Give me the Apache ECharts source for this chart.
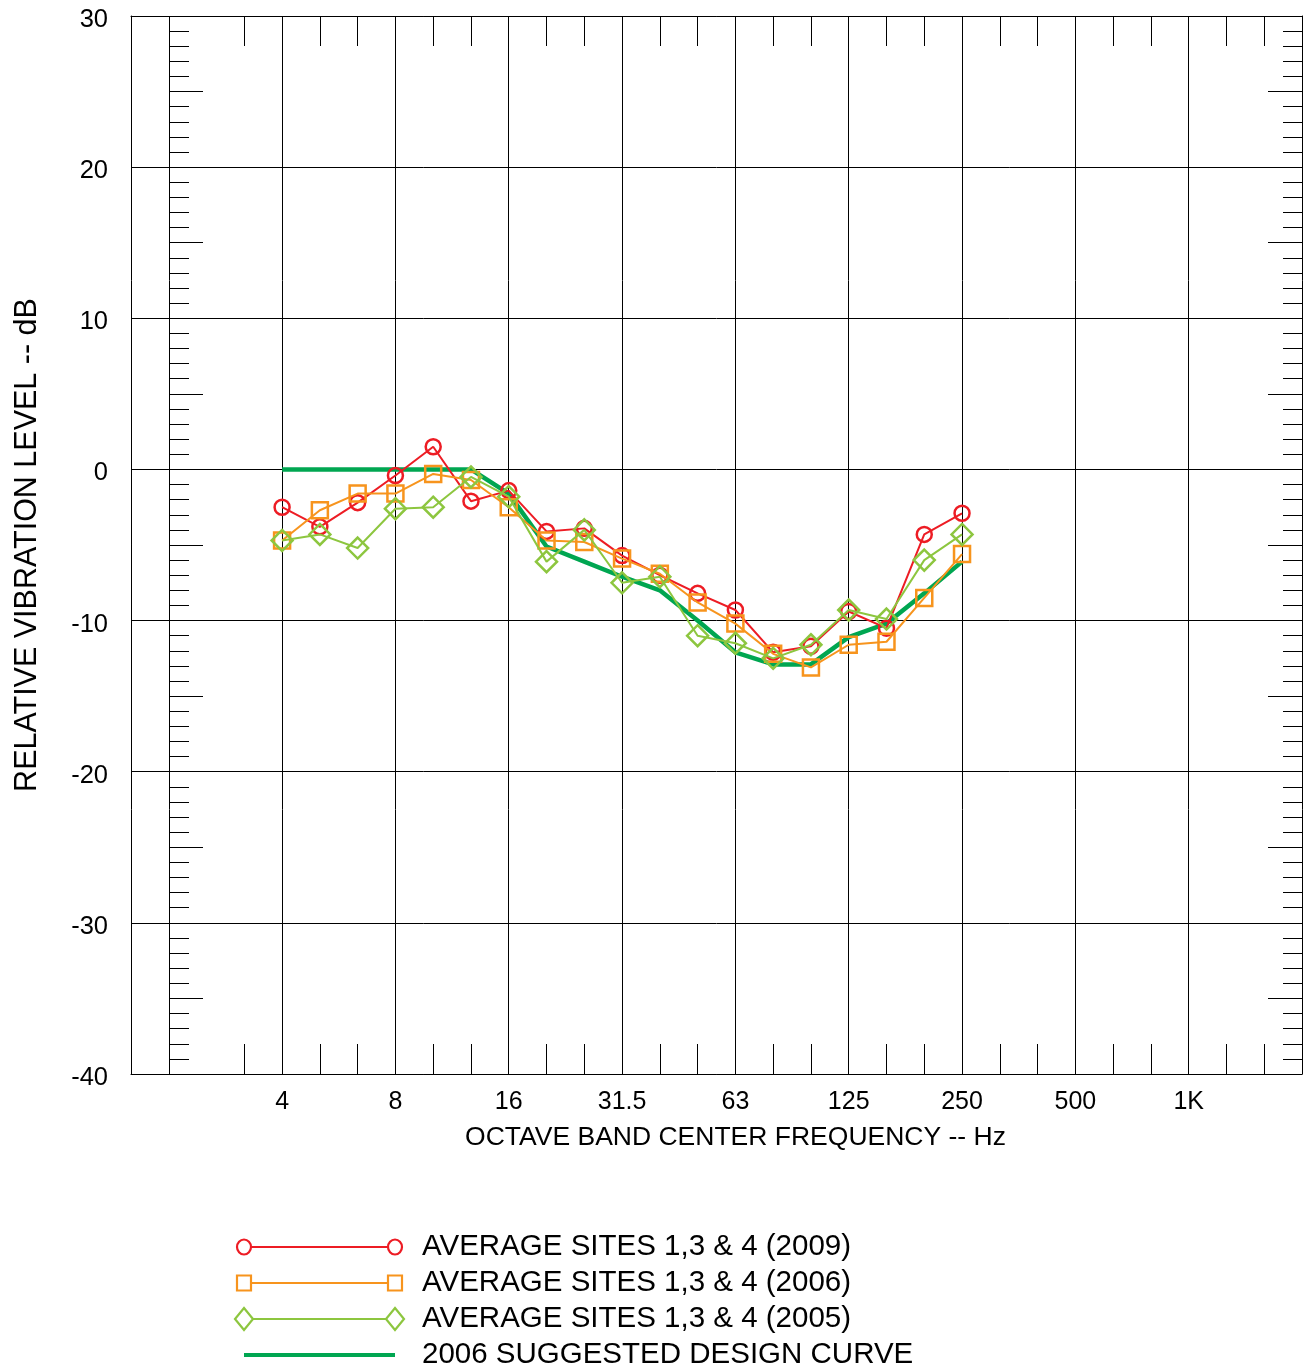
<!DOCTYPE html>
<html>
<head>
<meta charset="utf-8">
<script src="https://cdn.jsdelivr.net/npm/echarts@6/dist/echarts.min.js"></script>
<style>
  html, body { margin: 0; padding: 0; background: #ffffff; }
  #chart { width: 1307px; height: 1370px; }
</style>
</head>
<body>
<div id="chart"></div>
<script>
// One-third octave bands spanning the frequency axis (left edge to right edge)
const BANDS = ['1.6', '2', '2.5', '3.15', '4', '5', '6.3', '8', '10', '12.5', '16', '20', '25',
  '31.5', '40', '50', '63', '80', '100', '125', '160', '200', '250', '315', '400', '500',
  '630', '800', '1K', '1.25K', '1.6K', '2K'];

// Bands at which the vibration levels were measured
const MEASURED_BANDS = ['4', '5', '6.3', '8', '10', '12.5', '16', '20', '25', '31.5', '40',
  '50', '63', '80', '100', '125', '160', '200', '250'];

// Relative vibration level, dB
const AVG_2009 = [-2.5, -3.8, -2.2, -0.4, 1.5, -2.1, -1.4, -4.1, -3.9, -5.7, -7.0, -8.2,
  -9.3, -12.1, -11.7, -9.4, -10.5, -4.3, -2.9];
const AVG_2006 = [-4.7, -2.7, -1.6, -1.6, -0.3, -0.7, -2.5, -4.7, -4.8, -5.9, -6.9, -8.8,
  -10.2, -12.2, -13.1, -11.6, -11.4, -8.5, -5.6];
const AVG_2005 = [-4.7, -4.3, -5.2, -2.6, -2.5, -0.5, -1.8, -6.1, -4.0, -7.5, -7.1, -11.0,
  -11.5, -12.5, -11.6, -9.3, -9.9, -6.0, -4.3];
const DESIGN_2006 = [0, 0, 0, 0, 0, 0, -1.6, -5.1, -6.1, -7.1, -8.0, -10.0,
  -12.1, -12.9, -12.9, -11.1, -10.2, -8.2, -6.1];

// Octave bands that get a full-height grid line, and those that carry a label
const GRID_BANDS = ['2', '4', '8', '16', '31.5', '63', '125', '250', '500', '1K'];
const LABEL_BANDS = ['4', '8', '16', '31.5', '63', '125', '250', '500', '1K'];
// Bands without a short edge tick
const NO_TICK_BANDS = ['1.6', '2.5', '2K'];

const Y_MIN = -40, Y_MAX = 30, Y_STEP = 10;

const SERIES_INFO = [
  { name: 'AVERAGE SITES 1,3 & 4 (2009)', values: AVG_2009, color: '#ED1C24', symbol: 'circle', size: 15 },
  { name: 'AVERAGE SITES 1,3 & 4 (2006)', values: AVG_2006, color: '#F7941D', symbol: 'rect', size: 16 },
  { name: 'AVERAGE SITES 1,3 & 4 (2005)', values: AVG_2005, color: '#8DC63F', symbol: 'diamond', size: 21 },
  { name: '2006 SUGGESTED DESIGN CURVE', values: DESIGN_2006, color: '#00A651', symbol: 'none', size: 0 }
];

const FONT = '"Liberation Sans", Arial, Helvetica, sans-serif';
const INK = '#000000';

const showTick = (i) => GRID_BANDS.indexOf(BANDS[i]) < 0 && NO_TICK_BANDS.indexOf(BANDS[i]) < 0;

function pairs(values) {
  return MEASURED_BANDS.map((b, i) => [b, values[i]]);
}

// Draw order: design curve at the bottom, then 2009, 2006, 2005 on top
const series = [];
const design = SERIES_INFO[3];
series.push({
  name: design.name, type: 'line', data: pairs(design.values),
  symbol: 'none', z: 2,
  lineStyle: { color: design.color, width: 4.5 },
  animation: false
});
SERIES_INFO.slice(0, 3).forEach((s, k) => {
  series.push({
    name: s.name, type: 'line', data: pairs(s.values),
    symbol: s.symbol, symbolSize: s.size, z: 3 + k,
    lineStyle: { color: s.color, width: 2 },
    itemStyle: { color: 'rgba(255,255,255,0)', borderColor: s.color, borderWidth: 2.5 },
    emphasis: { disabled: true },
    animation: false
  });
});

// Legend drawn below the plot: marker-line-marker sample plus the label
const LEG_X0 = 244, LEG_X1 = 395, LEG_TX = 422, LEG_Y0 = 1247, LEG_DY = 36;
const legendEls = [];
function marker(kind, cx, cy, color) {
  const st = { fill: '#ffffff', stroke: color, lineWidth: 2.2 };
  if (kind === 'circle') return { type: 'ellipse', shape: { cx, cy, rx: 7, ry: 7.5 }, style: st };
  if (kind === 'rect') return { type: 'rect', shape: { x: cx - 7, y: cy - 7.5, width: 14, height: 15 }, style: st };
  return { type: 'polygon', shape: { points: [[cx, cy - 11], [cx + 9, cy], [cx, cy + 11], [cx - 9, cy]] }, style: st };
}
SERIES_INFO.forEach((s, i) => {
  const y = LEG_Y0 + i * LEG_DY;
  const isDesign = s.symbol === 'none';
  legendEls.push({
    type: 'line',
    shape: { x1: LEG_X0, y1: y, x2: LEG_X1, y2: y },
    style: { stroke: s.color, lineWidth: isDesign ? 4 : 2 }
  });
  if (!isDesign) {
    legendEls.push(marker(s.symbol, LEG_X0, y, s.color));
    legendEls.push(marker(s.symbol, LEG_X1, y, s.color));
  }
  legendEls.push({
    type: 'text',
    style: { text: s.name, x: LEG_TX, y: y, font: '29.5px ' + FONT, fill: INK, verticalAlign: 'middle', align: 'left' }
  });
});

const chart = echarts.init(document.getElementById('chart'), null, { renderer: 'canvas' });

const tickLine = { color: INK, width: 1 };

chart.setOption({
  backgroundColor: '#ffffff',
  animation: false,
  textStyle: { fontFamily: FONT },
  grid: { left: 131, right: 5, top: 16, bottom: 296, containLabel: false },
  xAxis: [
    {
      type: 'category', data: BANDS, boundaryGap: false, position: 'bottom',
      name: 'OCTAVE BAND CENTER FREQUENCY -- Hz', nameLocation: 'middle', nameGap: 50,
      nameTextStyle: { fontSize: 26.5, color: INK, fontFamily: FONT, padding: [0, 0, 0, 38] },
      axisLine: { show: true, onZero: false, lineStyle: { color: INK, width: 1 } },
      axisTick: { show: true, inside: true, length: 30, interval: (i) => showTick(i), lineStyle: tickLine },
      axisLabel: {
        show: true, margin: 16, fontSize: 25, color: INK, fontFamily: FONT,
        interval: (i) => LABEL_BANDS.indexOf(BANDS[i]) >= 0
      },
      splitLine: { show: true, interval: (i) => GRID_BANDS.indexOf(BANDS[i]) >= 0, lineStyle: { color: INK, width: 1 } }
    },
    {
      type: 'category', data: BANDS, boundaryGap: false, position: 'top',
      axisLine: { show: true, onZero: false, lineStyle: { color: INK, width: 1 } },
      axisTick: { show: true, inside: true, length: 30, interval: (i) => showTick(i), lineStyle: tickLine },
      axisLabel: { show: false },
      splitLine: { show: false }
    }
  ],
  yAxis: [
    {
      type: 'value', min: Y_MIN, max: Y_MAX, interval: Y_STEP, position: 'left',
      name: 'RELATIVE VIBRATION LEVEL -- dB', nameLocation: 'middle', nameGap: 88,
      nameTextStyle: { fontSize: 30.5, color: INK, fontFamily: FONT },
      axisLine: { show: true, onZero: false, lineStyle: { color: INK, width: 1 } },
      axisTick: { show: false },
      axisLabel: {
        show: true, margin: 23, fontSize: 25.5, color: INK, fontFamily: FONT,
        verticalAlign: 'top', lineHeight: 8
      },
      splitLine: { show: true, lineStyle: { color: INK, width: 1 } }
    },
    {
      // inner dB scale along the 2 Hz line
      type: 'value', min: Y_MIN, max: Y_MAX, interval: 5, position: 'left', offset: -38,
      axisLine: { show: false, onZero: false },
      axisTick: { show: true, inside: true, length: 34, lineStyle: tickLine },
      minorTick: { show: true, splitNumber: 5, length: 20, lineStyle: tickLine },
      axisLabel: { show: false },
      splitLine: { show: false }
    },
    {
      type: 'value', min: Y_MIN, max: Y_MAX, interval: 5, position: 'right',
      axisLine: { show: true, onZero: false, lineStyle: { color: INK, width: 1 } },
      axisTick: { show: true, inside: true, length: 34, lineStyle: tickLine },
      minorTick: { show: true, splitNumber: 5, length: 19, lineStyle: tickLine },
      axisLabel: { show: false },
      splitLine: { show: false }
    }
  ],
  series: series,
  graphic: legendEls
});
</script>
</body>
</html>
